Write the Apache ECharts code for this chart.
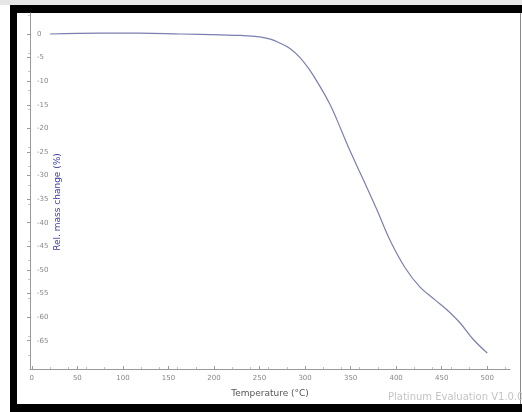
<!DOCTYPE html>
<html>
<head>
<meta charset="utf-8">
<script src="https://cdn.jsdelivr.net/npm/echarts@6/dist/echarts.min.js"></script>
<style>
html,body{margin:0;padding:0;background:#fff;}
#c{width:522px;height:412px;}
</style>
</head>
<body>
<div id="c"></div>
<script>
// Data
var temperature = [20, 75, 119, 163, 207, 229, 250, 262, 272, 283, 294, 305, 316, 327, 335, 349, 364, 379, 393, 410, 426, 443, 456, 470, 485, 500];
var massChange  = [0, 0.2, 0.2, 0, -0.2, -0.3, -0.6, -1.1, -1.9, -3.0, -4.9, -7.6, -11.0, -14.8, -18.2, -24.6, -30.9, -37.3, -43.6, -49.6, -53.6, -56.4, -58.5, -61.2, -64.8, -67.6];
var xTicks = [0, 50, 100, 150, 200, 250, 300, 350, 400, 450, 500];
var yTicks = [0, -5, -10, -15, -20, -25, -30, -35, -40, -45, -50, -55, -60, -65];

var chart = echarts.init(document.getElementById('c'), null, {renderer: 'canvas'});
var pts = temperature.map(function (t, i) { return [t, massChange[i]]; });

chart.setOption({
  animation: false,
  backgroundColor: '#ffffff',
  grid: {left: 30, right: 12, top: 13, bottom: 43},
  xAxis: {
    type: 'value',
    min: -2, max: 525,
    name: 'Temperature (°C)',
    nameLocation: 'middle',
    nameGap: 20,
    nameTextStyle: {color: '#555', fontSize: 9, fontFamily: 'DejaVu Sans'},
    axisLine: {show: true, onZero: false, lineStyle: {color: '#9a9a9a', width: 1}},
    axisTick: {show: true, length: 3, inside: true, customValues: xTicks, lineStyle: {color: '#9a9a9a'}},
    minorTick: {show: true, splitNumber: 5, length: 2, lineStyle: {color: '#c0c0c0'}},
    axisLabel: {customValues: xTicks, color: '#888', fontSize: 7, margin: 6, fontFamily: 'DejaVu Sans'},
    splitLine: {show: false}
  },
  yAxis: {
    type: 'value',
    min: -71, max: 4.45,
    axisLine: {show: true, onZero: false, lineStyle: {color: '#9a9a9a', width: 1}},
    axisTick: {show: true, length: 3, customValues: yTicks, lineStyle: {color: '#9a9a9a'}},
    minorTick: {show: true, splitNumber: 5, length: 2, lineStyle: {color: '#c8c8c8'}},
    axisLabel: {customValues: yTicks, inside: true, color: '#888', fontSize: 7, margin: 7, fontFamily: 'DejaVu Sans'},
    splitLine: {show: false}
  },
  graphic: [
    {type: 'rect', shape: {x: 0, y: 0, width: 522, height: 5}, style: {fill: '#e6e6e6'}, silent: true},
    {type: 'rect', shape: {x: 10, y: 5, width: 512, height: 8}, style: {fill: '#000'}, silent: true},
    {type: 'rect', shape: {x: 10, y: 5, width: 7, height: 407}, style: {fill: '#000'}, silent: true},
    {type: 'rect', shape: {x: 10, y: 404, width: 512, height: 8}, style: {fill: '#000'}, silent: true},
    {type: 'rect', shape: {x: 520, y: 13, width: 1, height: 391}, style: {fill: '#8a8a8a'}, silent: true},
    {type: 'text', x: 58, y: 202, rotation: Math.PI / 2,
      style: {text: 'Rel. mass change (%)', fill: '#3c3ca8', fontSize: 9, fontFamily: 'DejaVu Sans', align: 'center', verticalAlign: 'middle'}},
    {type: 'text', x: 388, y: 397,
      style: {text: 'Platinum Evaluation V1.0.0', fill: '#c4c4c4', fontSize: 10, fontFamily: 'DejaVu Sans', align: 'left', verticalAlign: 'middle'}}
  ],
  series: [{
    type: 'line',
    data: pts,
    smooth: 0.4,
    showSymbol: false,
    lineStyle: {color: '#7a7fb0', width: 1.2}
  }]
});
</script>
</body>
</html>
